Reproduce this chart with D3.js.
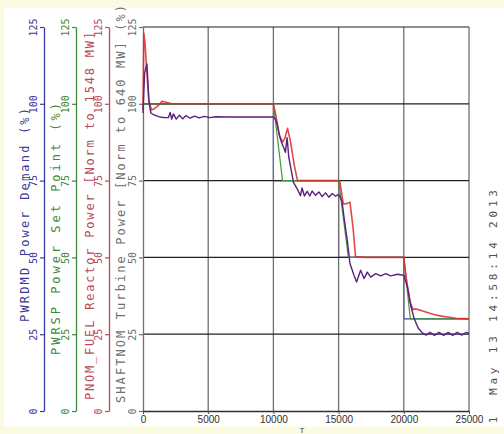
<!DOCTYPE html>
<html>
<head>
<meta charset="utf-8">
<script src="https://cdn.jsdelivr.net/npm/d3@7"></script>
<style>
  body { margin: 0; background: #fbfbe4; }
  svg { display: block; }
</style>
</head>
<body>
<div id="chart"></div>
<script>
// time axis (s) and the four traces
const timeTicks = [0, 5000, 10000, 15000, 20000, 25000];
const pctTicks = [0, 25, 50, 75, 100, 125];

const demandT = [0, 10000, 10000, 15000, 15000, 20000, 20000, 25000];
const demandV = [100, 100, 75, 75, 50, 50, 30, 30];

const setpointT = [0, 10000, 10700, 15000, 15750, 20000, 20500, 25000];
const setpointV = [100, 100, 75, 75, 50, 50, 30, 30];

const reactorT = [0, 60, 150, 300, 450, 650, 900, 1200, 1450, 1700, 2200, 2800, 10000, 10200, 10450, 10700, 10900, 11080, 11300, 11600, 11850, 12500,
    15000, 15100, 15360, 15700, 15870, 16100, 16300, 17000, 20000, 20200, 20450, 20700, 20900, 21100, 21500, 22000, 22500, 23000, 23500, 24000, 25000];
const reactorV = [98, 123, 120, 110, 101, 98, 98.5, 99.5, 100.8, 100.6, 100, 100, 100, 96, 90, 87.5, 89, 92, 88, 80, 75, 75,
    75, 74.5, 67.4, 67.6, 68, 60, 50.3, 50, 50, 43, 36, 33, 33.3, 33, 32.5, 31.8, 31.2, 30.8, 30.5, 30.2, 30];

const turbineT = [0, 120, 300, 450, 600, 800, 1100, 1400, 1700, 1950, 2080, 2200, 2330, 2550, 2800, 3050, 3300, 3600, 3950, 4300, 4700, 5100, 5600, 6500, 10000,
    10150, 10280, 10500, 10670, 10790, 10920, 11050, 11180, 11280, 11540, 11800, 12080, 12200, 12380, 12590, 12790, 12970, 13230, 13490, 13740, 14000, 14250, 14510, 14770, 15000,
    15250, 15450, 15670, 15870, 16180, 16380, 16690, 16950, 17200, 17460, 17850, 18230, 18620, 19000, 19510, 20000,
    20300, 20550, 20800, 21100, 21400, 21700, 22000, 22350, 22700, 23050, 23400, 23750, 24100, 24450, 24800, 25000];
const turbineV = [97, 110, 113, 101, 97, 96.5, 96, 95.6, 95.5, 95.5, 97.2, 95, 96.7, 95, 96.3, 95.1, 96.2, 95.3, 96, 95.4, 95.9, 95.5, 95.8, 95.7, 95.7,
    95, 93.4, 89, 86.9, 85.8, 84.2, 89, 82.6, 80.4, 74.4, 72.5, 70.1, 72.6, 70, 71.5, 70, 71.6, 70.2, 71.3, 69.8, 71, 69.6, 70.8, 69.9, 70.5,
    68.5, 62, 55.5, 48, 44.2, 42, 45.8, 43.1, 45.2, 43.6, 44.7, 44, 44.7, 44, 44.5, 44.2,
    40, 34, 30, 27, 25.5, 24.7, 25.6, 24.6, 25.6, 24.6, 25.6, 24.6, 25.6, 24.7, 25.6, 25.3];

const axisTitles = [
    "PWRDMD Power Demand (%)",
    "PWRSP Power Set Point (%)",
    "PNOM_FUEL Reactor Power [Norm to 1548 MW]",
    "SHAFTNOM Turbine Power [Norm to 640 MW] (%)"
];
const stampText = "May 13 14:58:14 2013";

const W = 504, H = 434;
const svg = d3.select("#chart").append("svg").attr("width", W).attr("height", H);

svg.append("rect").attr("x", 0).attr("y", 0).attr("width", W).attr("height", H).attr("fill", "#fbfbe4");
svg.append("rect").attr("x", 4).attr("y", 8).attr("width", W - 4).attr("height", 418).attr("fill", "#ffffff");

const x = d3.scaleLinear().domain([0, 25000]).range([143, 469]);
const y = d3.scaleLinear().domain([0, 125]).range([411, 27]);

const line = d3.line().x(d => x(d[0])).y(d => y(d[1]));
function trace(ts, vs, color, width, opacity) {
    svg.append("path")
        .datum(d3.zip(ts, vs))
        .attr("d", line)
        .attr("fill", "none")
        .attr("stroke", color)
        .attr("stroke-width", width)
        .attr("stroke-opacity", opacity)
        .attr("stroke-linejoin", "round");
}

// demand sits under the grid, the other traces on top
trace(demandT, demandV, "#3a3ac0", 1.2, 1);

// grid
svg.append("g").selectAll("line").data(timeTicks.slice(1)).enter().append("line")
    .attr("x1", d => x(d)).attr("x2", d => x(d))
    .attr("y1", y(0)).attr("y2", y(125))
    .attr("stroke", "#707070").attr("stroke-width", 1.3);
svg.append("g").selectAll("line").data(pctTicks.slice(1)).enter().append("line")
    .attr("x1", x(0)).attr("x2", x(25000))
    .attr("y1", d => y(d)).attr("y2", d => y(d))
    .attr("stroke", "#202020").attr("stroke-width", 1.2);

// four left axes, one per trace
const axisInfo = [
    {pos: 44, color: "#3a3a9a", titleX: 29, start: 322, len: 214},
    {pos: 76, color: "#3c8a3c", titleX: 60, start: 355, len: 252},
    {pos: 109, color: "#b84a5a", titleX: 94, start: 400, len: 368},
    {pos: 143, color: "#707070", titleX: 125, start: 403, len: 398}
];
axisInfo.forEach(function(a, i) {
    let g = svg.append("g")
        .attr("transform", "translate(" + a.pos + ",0)")
        .call(d3.axisLeft(y).tickValues(pctTicks).tickSize(4).tickSizeOuter(0));
    g.select(".domain").attr("stroke", a.color).attr("stroke-width", 1.3);
    g.selectAll(".tick line").attr("stroke", a.color).attr("stroke-width", 1.2);
    g.selectAll(".tick text")
        .attr("x", 0).attr("dy", 0)
        .attr("text-anchor", "middle")
        .attr("transform", "translate(-7,0) rotate(-90)")
        .attr("fill", a.color)
        .attr("font-family", "DejaVu Sans Mono")
        .attr("font-size", 10);
    svg.append("text")
        .attr("transform", "translate(" + a.titleX + "," + a.start + ") rotate(-90)")
        .attr("textLength", a.len)
        .attr("lengthAdjust", "spacing")
        .attr("fill", a.color)
        .attr("font-family", "DejaVu Sans Mono")
        .attr("font-size", 12)
        .text(axisTitles[i]);
});

// bottom time axis
let xg = svg.append("g")
    .attr("transform", "translate(0," + y(0) + ")")
    .call(d3.axisBottom(x).tickValues(timeTicks).tickFormat(d3.format("d")).tickSize(3).tickSizeOuter(0));
xg.select(".domain").attr("stroke", "#303030").attr("stroke-width", 1.3);
xg.selectAll(".tick line").attr("stroke", "#505050");
xg.selectAll(".tick text")
    .attr("y", 5).attr("dy", "0.71em")
    .attr("fill", "#303030")
    .attr("font-family", "Liberation Sans")
    .attr("font-size", 10);

svg.append("text")
    .attr("x", 302).attr("y", 433)
    .attr("text-anchor", "middle")
    .attr("fill", "#404040")
    .attr("font-family", "Liberation Sans")
    .attr("font-size", 8)
    .text("T");

// date stamp on the right
svg.append("text")
    .attr("transform", "translate(497,395) rotate(-90)")
    .attr("textLength", 205)
    .attr("lengthAdjust", "spacing")
    .attr("fill", "#505050")
    .attr("font-family", "DejaVu Sans Mono")
    .attr("font-size", 11)
    .text(stampText);
svg.append("text")
    .attr("transform", "translate(497,420) rotate(-90)")
    .attr("text-anchor", "middle")
    .attr("fill", "#505050")
    .attr("font-family", "DejaVu Sans Mono")
    .attr("font-size", 11)
    .text("1");

trace(setpointT, setpointV, "#3c9a3c", 1.2, 1);
trace(reactorT, reactorV, "#e02828", 1.6, 0.85);
trace(turbineT, turbineV, "#5a2080", 1.4, 1);
</script>
</body>
</html>
